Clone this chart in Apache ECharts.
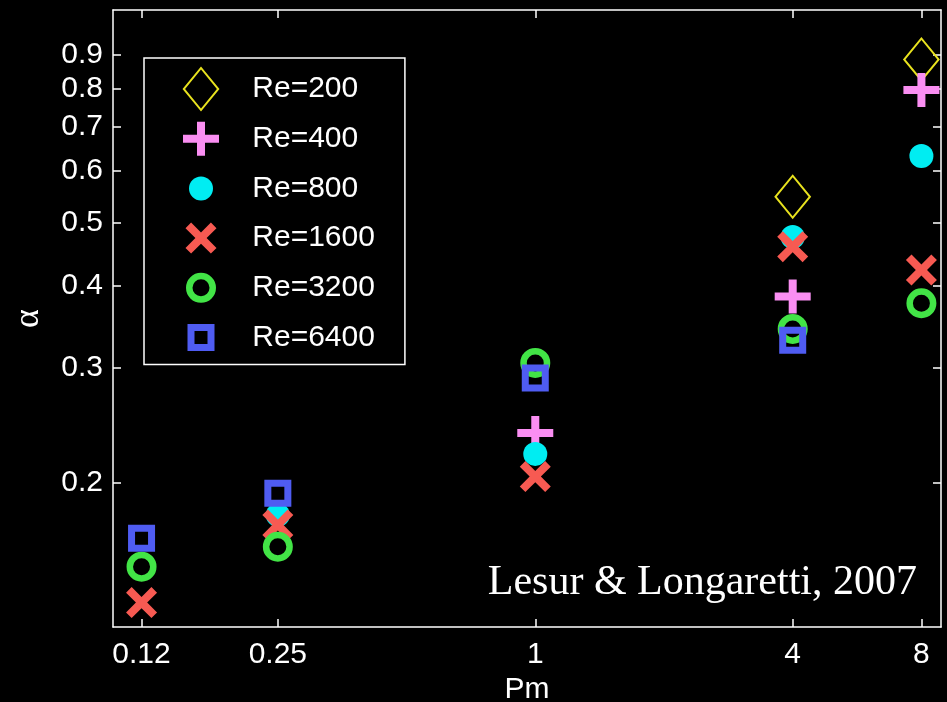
<!DOCTYPE html>
<html>
<head>
<meta charset="utf-8">
<script src="https://cdn.jsdelivr.net/npm/echarts@6/dist/echarts.min.js"></script>
<style>
html,body{margin:0;padding:0;background:#000;}
#chart{width:947px;height:702px;}
</style>
</head>
<body>
<div id="chart"></div>
<script>
// ---- data ----
const pmTicks = [0.12, 0.25, 1, 4, 8];
const alphaTicks = [0.2, 0.3, 0.4, 0.5, 0.6, 0.7, 0.8, 0.9];
const seriesNames = ['Re=200', 'Re=400', 'Re=800', 'Re=1600', 'Re=3200', 'Re=6400'];
const re200 = [[4, 0.547], [8, 0.886]];
const re400 = [[1, 0.2386], [4, 0.3852], [8, 0.796]];
const re800 = [[0.25, 0.1789], [1, 0.2217], [4, 0.4749], [8, 0.6313]];
const re1600 = [[0.12, 0.1315], [0.25, 0.1727], [1, 0.2047], [4, 0.459], [8, 0.4229]];
const re3200 = [[0.12, 0.1492], [0.25, 0.160], [1, 0.3051], [4, 0.3439], [8, 0.3763]];
const re6400 = [[0.12, 0.1649], [0.25, 0.1931], [1, 0.2893], [4, 0.3303]];

// ---- marker shapes (45 x 45 frame, filled outlines so the legend keeps spacing) ----
const FRAME = 'M0,0 M45,45 ';
const shapes = {
  diamond: 'path://' + FRAME + 'M22.5,0 L41,22.5 L22.5,45 L4,22.5 Z M22.5,3.1 L6.6,22.5 L22.5,41.9 L38.4,22.5 Z',
  plus: 'path://' + FRAME + 'M18.5,5.5 H26.5 V18.5 H40.5 V26.5 H26.5 V39.5 H18.5 V26.5 H4.5 V18.5 H18.5 Z',
  dot: 'path://' + FRAME + 'M10.5,22.5 A12,12 0 1 1 34.5,22.5 A12,12 0 1 1 10.5,22.5 Z',
  cross: 'path://' + FRAME + 'M7,12.6 L12.6,7 L22.5,16.9 L32.4,7 L38,12.6 L28.1,22.5 L38,32.4 L32.4,38 L22.5,28.1 L12.6,38 L7,32.4 L16.9,22.5 Z',
  ring: 'path://' + FRAME + 'M7.5,22.5 A15,15 0 1 1 37.5,22.5 A15,15 0 1 1 7.5,22.5 Z M14,22.5 A8.5,8.5 0 1 0 31,22.5 A8.5,8.5 0 1 0 14,22.5 Z',
  square: 'path://' + FRAME + 'M9,9 H36 V36 H9 Z M16,16 V29 H29 V16 Z'
};
const colors = ['#e8e21e', '#fa8ef2', '#00edf2', '#f75a52', '#42e446', '#4f5cf2'];
const symbols = [shapes.diamond, shapes.plus, shapes.dot, shapes.cross, shapes.ring, shapes.square];
const seriesData = [re200, re400, re800, re1600, re3200, re6400];

const FONT = '"Liberation Sans", Arial, Helvetica, sans-serif';
const X_MIN = 0.1029, X_MAX = 8.89;
const Y_MIN = 0.1207, Y_MAX = 1.054;

const lineStyle = {color: '#fff', width: 1.5};
function xAx(pos, showLabel) {
  return {
    type: 'log', logBase: 10, position: pos, min: X_MIN, max: X_MAX,
    name: showLabel ? 'Pm' : '', nameLocation: 'middle', nameGap: 47,
    nameTextStyle: {color: '#fff', fontSize: 30, fontFamily: FONT},
    axisLine: {show: true, lineStyle: lineStyle},
    axisTick: {show: true, inside: true, length: 8, lineStyle: lineStyle, customValues: pmTicks},
    minorTick: {show: false},
    axisLabel: {show: showLabel, customValues: pmTicks, color: '#fff', fontSize: 30, fontFamily: FONT, margin: 13,
      formatter: v => String(v)},
    splitLine: {show: false}
  };
}
function yAx(pos, showLabel) {
  return {
    type: 'log', logBase: 10, position: pos, min: Y_MIN, max: Y_MAX,
    name: showLabel ? 'α' : '', nameLocation: 'middle', nameGap: 66, nameRotate: 90,
    nameTextStyle: {color: '#fff', fontSize: 36, fontFamily: '"Liberation Serif", "DejaVu Serif", serif'},
    axisLine: {show: true, lineStyle: lineStyle},
    axisTick: {show: true, inside: true, length: 8, lineStyle: lineStyle, customValues: alphaTicks},
    minorTick: {show: false},
    axisLabel: {show: showLabel, customValues: alphaTicks, color: '#fff', fontSize: 30, fontFamily: FONT, margin: 10,
      formatter: v => String(v)},
    splitLine: {show: false}
  };
}

const series = seriesNames.map((name, i) => ({
  name: name,
  type: 'scatter',
  xAxisIndex: 0,
  yAxisIndex: 0,
  symbol: symbols[i],
  symbolSize: 45,
  itemStyle: {color: colors[i], opacity: 1, borderWidth: 0},
  emphasis: {disabled: true},
  data: seriesData[i],
  z: 2 + i
}));

const legendData = seriesNames.map((name, i) => ({
  name: name,
  icon: symbols[i],
  itemStyle: {color: colors[i], opacity: 1, borderWidth: 0}
}));

const chart = echarts.init(document.getElementById('chart'), null, {renderer: 'canvas'});
chart.setOption({
  backgroundColor: '#000',
  animation: false,
  grid: {left: 113, right: 6, top: 10, bottom: 75, containLabel: false, outerBoundsMode: 'none'},
  xAxis: [xAx('bottom', true), xAx('top', false)],
  yAxis: [yAx('left', true), yAx('right', false)],
  legend: {
    show: true,
    orient: 'vertical',
    left: 144, top: 58,
    selectedMode: false,
    itemWidth: 92.6, itemHeight: 45, itemGap: 4.7,
    padding: [8.5, 30, 4.5, 34.5],
    borderColor: '#fff', borderWidth: 1.5,
    backgroundColor: '#000',
    textStyle: {color: '#fff', fontSize: 30, fontFamily: FONT},
    data: legendData
  },
  graphic: [{
    type: 'text',
    x: 917, y: 583,
    style: {
      text: 'Lesur & Longaretti, 2007',
      fill: '#fff',
      font: '42px "Liberation Serif", "Times New Roman", serif',
      textAlign: 'right',
      textVerticalAlign: 'middle'
    },
    z: 10
  }],
  series: series
});
</script>
</body>
</html>
